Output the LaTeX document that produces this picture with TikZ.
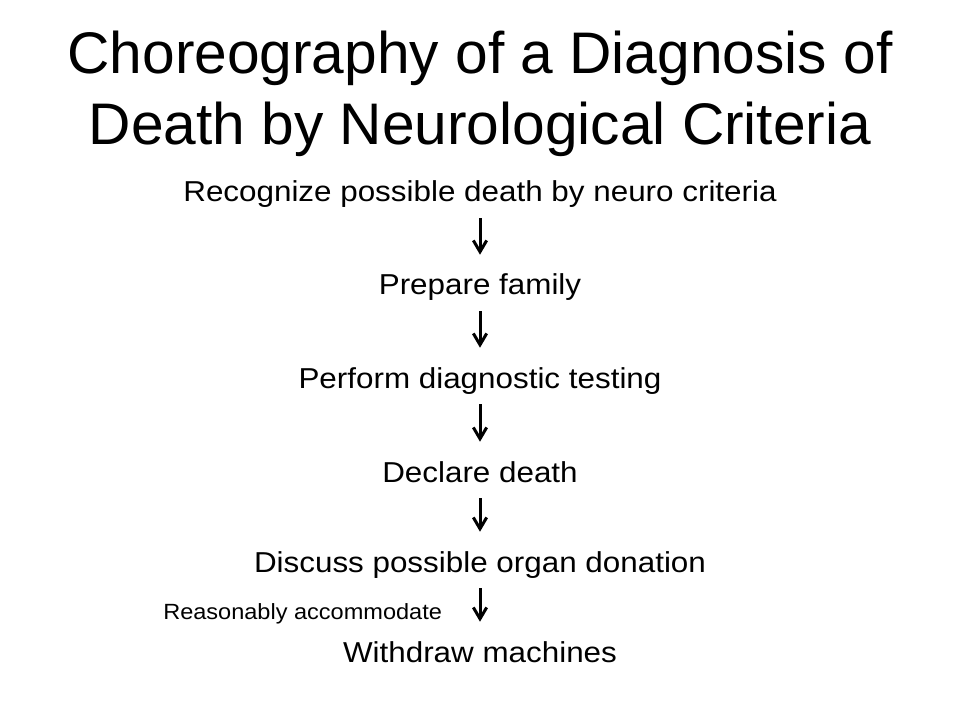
\documentclass[tikz,border=0pt]{standalone}
\usepackage{fontspec}
\setmainfont{Liberation Sans}
\usepackage{graphicx}
\usetikzlibrary{arrows.meta}

\newcommand{\stepwide}[1]{\scalebox{1.09}[1]{#1}}
\newcommand{\notewide}[1]{\scalebox{1.07}[1]{#1}}

\begin{document}
\begin{tikzpicture}[x=0.75pt,y=0.75pt,yscale=-1,xscale=1,
  titletext/.style={anchor=base,inner sep=0pt,font=\fontsize{44}{48}\selectfont},
  steptext/.style={anchor=base,inner sep=0pt,text height=15pt,text depth=4.5pt,font=\fontsize{21.6}{25}\selectfont},
  notetext/.style={anchor=base west,inner sep=0pt,font=\fontsize{16.5}{20}\selectfont},
  flow/.style={line width=2.25pt,-{Straight Barb[length=8.5pt,width=10pt,line width=2.25pt]},shorten <=7.5pt,shorten >=15pt}]
\useasboundingbox (0,0) rectangle (960,720);

% Text Node
\node (title1) at (480,74) [titletext] {Choreography of a Diagnosis of};
% Text Node
\node (title2) at (480,145) [titletext] {Death by Neurological Criteria};

% Text Node
\node (recognize) at (480,202) [steptext] {\stepwide{Recognize possible death by neuro criteria}};
% Text Node
\node (prepare) at (480,295) [steptext] {\stepwide{Prepare family}};
% Text Node
\node (perform) at (480,388) [steptext] {\stepwide{Perform diagnostic testing}};
% Text Node
\node (declare) at (480,482) [steptext] {\stepwide{Declare death}};
% Text Node
\node (discuss) at (480,572) [steptext] {\stepwide{Discuss possible organ donation}};
% Text Node
\node (withdraw) at (480,662) [steptext] {\stepwide{Withdraw machines}};
% Text Node
\node (accommodate) at (163,619) [notetext] {\notewide{Reasonably accommodate}};

%Straight Lines
\draw [flow] (recognize) -- (prepare);
%Straight Lines
\draw [flow] (prepare) -- (perform);
%Straight Lines
\draw [flow] (perform) -- (declare);
%Straight Lines
\draw [flow] (declare) -- (discuss);
%Straight Lines
\draw [flow] (discuss) -- (withdraw);

\end{tikzpicture}
\end{document}
